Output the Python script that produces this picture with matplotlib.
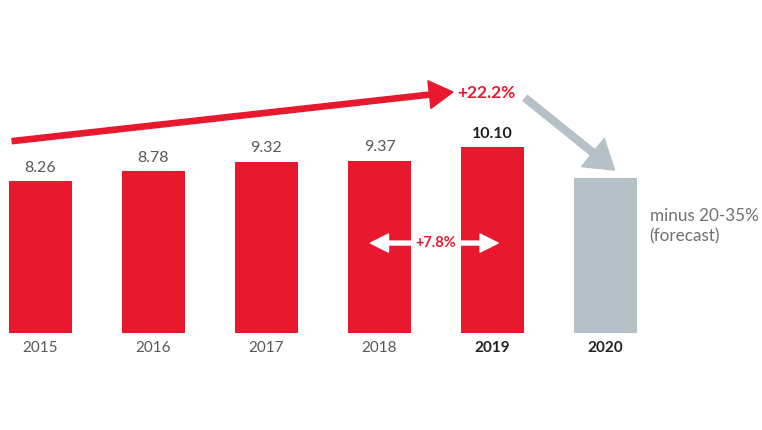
import numpy as np
import matplotlib
matplotlib.use("Agg")
import matplotlib.pyplot as plt

# Data
years = ["2015", "2016", "2017", "2018", "2019", "2020"]
values = [8.26, 8.78, 9.32, 9.37, 10.10, 8.45]
value_labels = ["8.26", "8.78", "9.32", "9.37", "10.10", ""]
bold_years = ["2019", "2020"]
growth_total = "+22.2%"
growth_last = "+7.8%"
forecast_note = "minus 20-35%\n(forecast)"

RED = "#E8192F"
GREY_BAR = "#B5C0C7"
TXT = "#585858"
DARK = "#222222"

plt.rcParams['font.family'] = ['Lato', 'DejaVu Sans']

fig = plt.figure(figsize=(7.62, 4.30), dpi=100)
ax = fig.add_axes([0, 0, 1, 1])
ax.set_xlim(-0.358, 6.385)
ax.set_ylim(-5.27, 18.1)
ax.axis("off")

x = np.arange(len(years))
colors = [RED] * 5 + [GREY_BAR]
ax.bar(x, values, width=0.56, color=colors)

# value labels above bars
for i, (v, lab) in enumerate(zip(values, value_labels)):
    if not lab:
        continue
    bold = years[i] in bold_years
    ax.text(x[i], v + 0.35, lab, ha="center", va="bottom", fontsize=11.5,
            color=DARK if bold else TXT, fontweight="bold" if bold else "normal")

# year labels
for i, y in enumerate(years):
    bold = y in bold_years
    ax.text(x[i], -0.45, y, ha="center", va="top", fontsize=11,
            color=DARK if bold else TXT, fontweight="bold" if bold else "normal")

# big red trend arrow
ax.annotate("", xy=(3.65, 13.1), xytext=(-0.25, 10.43),
            arrowprops=dict(arrowstyle="simple,head_length=0.85,head_width=1.0,tail_width=0.19",
                            color=RED, mutation_scale=20, shrinkA=0, shrinkB=0))
ax.text(3.69, 13.05, growth_total, ha="left", va="center", fontsize=12.5,
        color=RED, fontweight="bold")

# grey arrow towards forecast
ax.annotate("", xy=(5.08, 8.86), xytext=(4.29, 12.77),
            arrowprops=dict(arrowstyle="simple,head_length=1.0,head_width=1.3,tail_width=0.25",
                            color=GREY_BAR, mutation_scale=20, shrinkA=0, shrinkB=0))

# white double arrow between 2018 and 2019
mid = (x[3] + x[4]) / 2
for end in (2.92, 4.05):
    ax.annotate("", xy=(end, 4.89), xytext=(mid, 4.89),
                arrowprops=dict(arrowstyle="simple,head_length=1.0,head_width=1.0,tail_width=0.22",
                                color="white", mutation_scale=13, shrinkA=0, shrinkB=0))
ax.text(mid, 4.89, growth_last, ha="center", va="center", fontsize=10.5,
        color=RED, fontweight="bold",
        bbox=dict(boxstyle="square,pad=0.05", fc="white", ec="none"))

# forecast note
ax.text(5.39, 5.79, forecast_note, ha="left", va="center", fontsize=12.3,
        color="#707070", linespacing=1.35)

fig.savefig("out.png", dpi=100)
